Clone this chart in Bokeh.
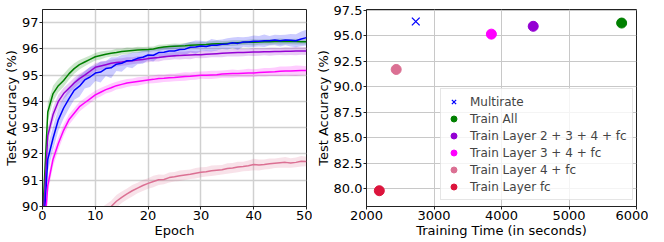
from bokeh.plotting import figure
from bokeh.layouts import row
from bokeh.models import Legend, LegendItem, FixedTicker, Range1d, CustomJSTickFormatter
from bokeh.embed import file_html
from bokeh.resources import INLINE

# ---------------- data ----------------
epochs = list(range(51))

train_all = [89.5, 93.6, 94.3, 94.6, 94.8, 95.05, 95.25, 95.4, 95.5, 95.6, 95.7,
             95.75, 95.8, 95.83, 95.86, 95.9, 95.92, 95.94, 95.96, 95.97, 95.98,
             96.0, 96.04, 96.07, 96.09, 96.1, 96.11, 96.12, 96.14, 96.15, 96.16,
             96.17, 96.19, 96.2, 96.2, 96.21, 96.22, 96.23, 96.24, 96.25, 96.25,
             96.26, 96.27, 96.27, 96.28, 96.28, 96.28, 96.28, 96.28, 96.27, 96.27]
train_all_sd = [0.3, 0.35, 0.3, 0.25, 0.24, 0.22, 0.2, 0.18, 0.16, 0.15, 0.14, 0.15,
                0.13, 0.12, 0.15, 0.11, 0.13, 0.1, 0.12, 0.1, 0.1, 0.09, 0.12, 0.1,
                0.1, 0.11, 0.09, 0.1, 0.12, 0.09, 0.1, 0.11, 0.1, 0.12, 0.1, 0.1,
                0.11, 0.1, 0.09, 0.1, 0.12, 0.1, 0.1, 0.11, 0.1, 0.12, 0.1, 0.1,
                0.11, 0.1, 0.1]

layer234 = [89.0, 92.7, 93.5, 94.0, 94.3, 94.5, 94.7, 94.87, 95.0, 95.15, 95.3,
            95.35, 95.4, 95.45, 95.48, 95.5, 95.53, 95.55, 95.58, 95.6, 95.63,
            95.65, 95.67, 95.7, 95.72, 95.74, 95.75, 95.76, 95.77, 95.78, 95.78,
            95.8, 95.81, 95.82, 95.83, 95.84, 95.85, 95.86, 95.86, 95.87, 95.88,
            95.88, 95.89, 95.89, 95.9, 95.9, 95.91, 95.91, 95.92, 95.92, 95.92]
layer234_sd = [0.3, 0.3, 0.28, 0.25, 0.22, 0.2, 0.2, 0.18, 0.17, 0.16, 0.15, 0.16,
               0.15, 0.14, 0.15, 0.14, 0.15, 0.13, 0.14, 0.13, 0.14, 0.13, 0.15,
               0.13, 0.14, 0.13, 0.15, 0.14, 0.16, 0.13, 0.14, 0.15, 0.13, 0.14,
               0.15, 0.13, 0.14, 0.15, 0.14, 0.13, 0.15, 0.14, 0.13, 0.15, 0.14,
               0.13, 0.15, 0.14, 0.16, 0.14, 0.15]

multirate = [88.4, 91.8, 92.6, 93.3, 93.75, 94.1, 94.42, 94.58, 94.82, 94.93, 95.08,
             95.12, 95.25, 95.28, 95.42, 95.45, 95.55, 95.56, 95.64, 95.68, 95.77,
             95.76, 95.86, 95.87, 95.92, 95.92, 95.98, 95.99, 96.06, 96.07, 96.11,
             96.09, 96.14, 96.14, 96.18, 96.19, 96.23, 96.21, 96.26, 96.26, 96.29,
             96.29, 96.31, 96.31, 96.34, 96.31, 96.34, 96.33, 96.31, 96.38, 96.43]
multirate_sd = [0.4, 0.5, 0.45, 0.42, 0.4, 0.38, 0.36, 0.4, 0.33, 0.38, 0.3, 0.4,
                0.28, 0.4, 0.26, 0.32, 0.24, 0.3, 0.22, 0.25, 0.2, 0.24, 0.18, 0.22,
                0.2, 0.24, 0.18, 0.22, 0.2, 0.25, 0.2, 0.18, 0.24, 0.2, 0.18, 0.22,
                0.2, 0.24, 0.18, 0.2, 0.22, 0.2, 0.24, 0.18, 0.2, 0.22, 0.2, 0.24,
                0.25, 0.28, 0.3]

layer34 = [88.0, 90.8, 91.8, 92.4, 92.9, 93.3, 93.55, 93.8, 93.95, 94.1, 94.25,
           94.35, 94.45, 94.52, 94.6, 94.65, 94.7, 94.73, 94.76, 94.79, 94.82,
           94.84, 94.87, 94.88, 94.9, 94.91, 94.93, 94.95, 94.96, 94.98, 95.0,
           95.0, 95.01, 95.02, 95.04, 95.05, 95.06, 95.06, 95.07, 95.08, 95.08,
           95.1, 95.11, 95.12, 95.13, 95.15, 95.16, 95.16, 95.17, 95.18, 95.18]
layer34_sd = [0.3, 0.3, 0.28, 0.25, 0.22, 0.2, 0.19, 0.18, 0.17, 0.17, 0.16, 0.16,
              0.15, 0.16, 0.15, 0.16, 0.15, 0.14, 0.16, 0.15, 0.14, 0.15, 0.16,
              0.14, 0.15, 0.14, 0.15, 0.16, 0.14, 0.15, 0.14, 0.15, 0.16, 0.15,
              0.14, 0.15, 0.16, 0.14, 0.15, 0.16, 0.15, 0.14, 0.16, 0.15, 0.16,
              0.18, 0.17, 0.18, 0.2, 0.18, 0.16]

layer4 = [84.0, 86.5, 87.4, 87.9, 88.3, 88.6, 88.85, 89.05, 89.25, 89.4, 89.55,
          89.7, 89.85, 90.0, 90.2, 90.35, 90.48, 90.6, 90.7, 90.8, 90.88, 90.95,
          91.02, 91.03, 91.1, 91.13, 91.17, 91.2, 91.23, 91.27, 91.3, 91.32,
          91.36, 91.38, 91.4, 91.45, 91.47, 91.5, 91.52, 91.55, 91.6, 91.58,
          91.6, 91.63, 91.65, 91.67, 91.68, 91.66, 91.68, 91.72, 91.71]
layer4_sd = [0.4, 0.38, 0.35, 0.33, 0.3, 0.3, 0.28, 0.27, 0.26, 0.25, 0.25, 0.24,
             0.23, 0.22, 0.24, 0.22, 0.21, 0.22, 0.2, 0.21, 0.2, 0.22, 0.2, 0.18,
             0.19, 0.18, 0.2, 0.19, 0.18, 0.2, 0.19, 0.18, 0.2, 0.19, 0.18, 0.2,
             0.19, 0.2, 0.18, 0.2, 0.22, 0.21, 0.19, 0.2, 0.18, 0.19, 0.2, 0.18,
             0.19, 0.2, 0.18]

methods = ["Multirate", "Train All", "Train Layer 2 + 3 + 4 + fc",
           "Train Layer 3 + 4 + fc", "Train Layer 4 + fc", "Train Layer fc"]
train_time = [2730, 5780, 4470, 3850, 2440, 2190]
final_acc = [96.42, 96.27, 95.95, 95.18, 91.71, 79.8]
colors = ["blue", "green", "darkviolet", "magenta", "palevioletred", "crimson"]

FONT = "DejaVu Sans"


def style(p):
    p.outline_line_color = "#222222"
    p.outline_line_width = 1
    p.background_fill_color = "white"
    p.border_fill_color = "white"
    for ax in (p.xaxis[0], p.yaxis[0]):
        ax.major_label_text_font = FONT
        ax.major_label_text_font_size = "13px"
        ax.major_label_text_color = "black"
        ax.axis_label_text_font = FONT
        ax.axis_label_text_font_size = "13px"
        ax.axis_label_text_font_style = "normal"
        ax.axis_label_text_color = "black"
        ax.major_tick_in = 0
        ax.major_tick_out = 3
        ax.minor_tick_in = 0
        ax.minor_tick_out = 0
        ax.major_label_standoff = 1
        ax.axis_label_standoff = 0
        ax.axis_line_color = "#222222"
        ax.major_tick_line_color = "#222222"


# ---------------- left: accuracy vs epoch ----------------
left = figure(width=312, height=240, output_backend="svg", toolbar_location=None,
              x_range=Range1d(0, 50), y_range=Range1d(90, 97.5),
              min_border_left=32, min_border_right=6, min_border_top=9,
              min_border_bottom=0)
style(left)
left.xaxis.axis_label = "Epoch"
left.yaxis.axis_label = "Test Accuracy (%)"
left.xaxis.ticker = FixedTicker(ticks=[0, 10, 20, 30, 40, 50])
left.yaxis.ticker = FixedTicker(ticks=[90, 91, 92, 93, 94, 95, 96, 97])
left.grid.grid_line_color = "#d0d0d0"
left.grid.grid_line_width = 1.5

series = [(train_all, train_all_sd, "green"),
          (layer234, layer234_sd, "darkviolet"),
          (multirate, multirate_sd, "blue"),
          (layer34, layer34_sd, "magenta"),
          (layer4, layer4_sd, "palevioletred")]
for mean, sd, c in series:
    lo = [m - s for m, s in zip(mean, sd)]
    hi = [m + s for m, s in zip(mean, sd)]
    left.varea(x=epochs, y1=lo, y2=hi, fill_color=c, fill_alpha=0.2)
for mean, sd, c in series:
    left.line(epochs, mean, line_color=c, line_width=1.5)

# ---------------- right: accuracy vs training time ----------------
right = figure(width=336, height=240, output_backend="svg", toolbar_location=None,
               x_range=Range1d(2000, 6000), y_range=Range1d(78.25, 97.6),
               min_border_left=49, min_border_right=12, min_border_top=9,
               min_border_bottom=0)
style(right)
right.xaxis.axis_label = "Training Time (in seconds)"
right.yaxis.axis_label = "Test Accuracy (%)"
right.xaxis.ticker = FixedTicker(ticks=[2000, 3000, 4000, 5000, 6000])
right.yaxis.ticker = FixedTicker(ticks=[80.0, 82.5, 85.0, 87.5, 90.0, 92.5, 95.0, 97.5])
right.yaxis.formatter = CustomJSTickFormatter(code="return tick.toFixed(1);")
right.grid.grid_line_color = "#c8c8c8"
right.grid.grid_line_width = 1

items = []
for i, (m, t, a, c) in enumerate(zip(methods, train_time, final_acc, colors)):
    if i == 0:
        r = right.scatter([t], [a], marker="x", size=11, line_color=c, line_width=1.3)
    else:
        r = right.scatter([t], [a], marker="circle", size=10, fill_color=c, line_color=c)
    items.append(LegendItem(label=m, renderers=[r]))

legend = Legend(items=items, location=(74, 6), label_text_font=FONT,
                label_text_font_size="12px", label_height=15, glyph_height=15,
                glyph_width=15, spacing=2, padding=5, margin=0, label_standoff=9,
                border_line_color="#cccccc", border_line_width=1,
                background_fill_alpha=0.8)
right.add_layout(legend)

layout = row(left, right)
open("out.html", "w").write(file_html(layout, INLINE))
